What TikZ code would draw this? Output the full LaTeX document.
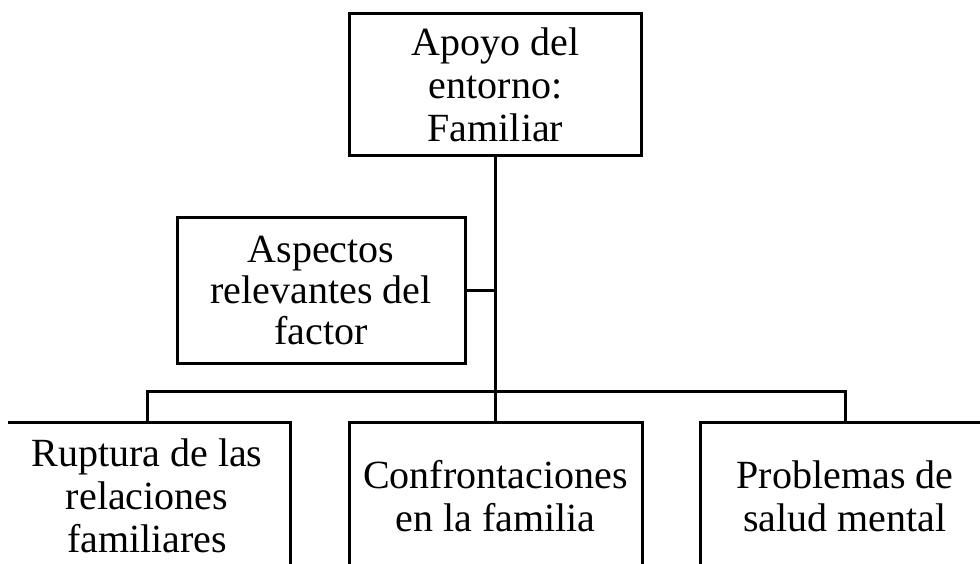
\documentclass[tikz,border=0pt]{standalone}
\usepackage{fontspec}
\setmainfont{Liberation Serif}
\begin{document}
\begin{tikzpicture}[x=0.5pt,y=-0.5pt,
  box/.style={draw, line width=1.5pt, align=center, inner sep=0pt,
    font=\fontsize{20}{21.5}\selectfont},
  wire/.style={line width=1.5pt}]
\useasboundingbox (0,0) rectangle (980,563);
\clip (8,0) rectangle (980,563);
\node[box, minimum width=146pt, minimum height=71pt] (top) at (495.5,84.5) {Apoyo del\\entorno:\\Familiar};
\node[box, minimum width=144pt, minimum height=73pt, font=\fontsize{20}{20.5}\selectfont] (asp) at (321,290) {Aspectos\\relevantes del\\factor};
\node[box, minimum width=143pt, minimum height=74pt] (b1) at (147,496) {Ruptura de las\\relaciones\\familiares};
\node[box, minimum width=146.5pt, minimum height=74pt] (b2) at (495.5,496) {Confrontaciones\\en la familia};
\node[box, minimum width=145pt, minimum height=74pt] (b3) at (845,496) {Problemas de\\salud mental};
\coordinate (j) at (495.5,391);
\draw[wire] (top.south) -- (b2.north);
\draw[wire] (asp.east) -- (asp.east -| top.south);
\draw[wire] (b1.north) |- (j) -| (b3.north);
\end{tikzpicture}
\end{document}
